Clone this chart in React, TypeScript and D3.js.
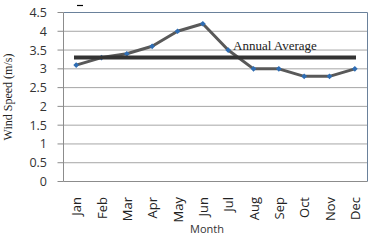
import React from "react";
import * as d3 from "d3";

const months = ["Jan","Feb","Mar","Apr","May","Jun","Jul","Aug","Sep","Oct","Nov","Dec"];
const windSpeed = [3.1, 3.3, 3.4, 3.6, 4.0, 4.2, 3.5, 3.0, 3.0, 2.8, 2.8, 3.0];
const annualAverage = 3.3;
const yTicks = [0, 0.5, 1, 1.5, 2, 2.5, 3, 3.5, 4, 4.5];

export default function App() {
  const W = 376, H = 242;
  const left = 63.5, right = 367.5, top = 12.5, bottom = 181.5;
  const x = d3.scaleBand<string>().domain(months).range([left, right]);
  const y = d3.scaleLinear().domain([0, 4.5]).range([bottom, top]);
  const cx = (m: string) => (x(m) as number) + x.bandwidth() / 2;
  const line = d3.line<number>().x((_, i) => cx(months[i])).y(d => y(d));
  const sans = "'Open Sans', 'Liberation Sans', sans-serif";
  const serif = "'Liberation Serif', 'DejaVu Serif', serif";
  return (
    <svg width={W} height={H} style={{ position: "absolute", left: 0, top: 0, background: "#fff" }}>
      {yTicks.map(t => (
        <g key={t}>
          {t > 0 && <line x1={left} x2={right} y1={y(t)} y2={y(t)} stroke={t === 4.5 ? "#6a819b" : "#a6a6a6"} strokeWidth={1} />}
          <line x1={left - 6} x2={left} y1={y(t)} y2={y(t)} stroke="#8c8c8c" />
          <text x={47} y={y(t) + 4.5} textAnchor="end" fontFamily={sans} fontSize={12.5} fill="#333">{t}</text>
        </g>
      ))}
      <line x1={right} x2={right} y1={top} y2={bottom} stroke="#6a819b" />
      <line x1={left} x2={left} y1={top} y2={bottom} stroke="#8c8c8c" />
      <line x1={left} x2={right} y1={bottom} y2={bottom} stroke="#8c8c8c" />
      <line x1={77} x2={83} y1={5.5} y2={5.5} stroke="#000" strokeWidth={1.2} />
      <path d={line(windSpeed) || ""} fill="none" stroke="#595959" strokeWidth={3} strokeLinejoin="round" />
      {windSpeed.map((v, i) => (
        <rect key={i} x={cx(months[i]) - 2} y={y(v) - 2} width={4} height={4} fill="#2e6db4"
          transform={`rotate(45 ${cx(months[i])} ${y(v)})`} />
      ))}
      <line x1={74} x2={356} y1={y(annualAverage)} y2={y(annualAverage)} stroke="#333" strokeWidth={4} />
      <text x={233} y={50} fontFamily={serif} fontSize={13} fill="#222">Annual Average</text>
      {months.map(m => (
        <text key={m} transform={`translate(${cx(m) + 5},197) rotate(-90)`} textAnchor="end"
          fontFamily={sans} fontSize={13} fill="#222">{m}</text>
      ))}
      <text x={207} y={233} textAnchor="middle" fontFamily={sans} fontSize={11} fill="#333">Month</text>
      <text transform="translate(12,97) rotate(-90)" textAnchor="middle" fontFamily={serif} fontSize={12} fill="#222">Wind Speed (m/s)</text>
    </svg>
  );
}
